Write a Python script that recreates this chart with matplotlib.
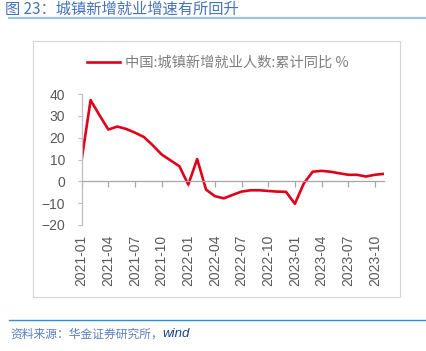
import matplotlib
matplotlib.use("Agg")
import matplotlib.pyplot as plt
from matplotlib.patches import Rectangle
from matplotlib.lines import Line2D

plt.rcParams['font.family'] = ['Liberation Sans', 'Noto Sans CJK SC', 'DejaVu Sans']

# 城镇新增就业人数:累计同比 (%), 2021-01 .. 2023-11
months = [f"{y}-{m:02d}" for y in (2021, 2022, 2023) for m in range(1, 13)][:35]
yoy = [10.0, 37.2, 30.3, 23.7, 25.1, 24.0, 22.3, 20.3, 16.5, 12.3, 9.6, 6.9,
       -1.5, 10.2, -3.8, -6.8, -7.8, -6.2, -4.7, -4.1, -4.1, -4.4, -4.7, -4.8,
       -10.3, -1.0, 4.4, 4.8, 4.4, 3.7, 3.0, 3.0, 2.2, 3.0, 3.4]
tick_labels = months[::3]
yticks = [40, 30, 20, 10, 0, -10, -20]

title = "图 23：城镇新增就业增速有所回升"
legend_label = "中国:城镇新增就业人数:累计同比 %"
source = "资料来源：华金证券研究所，"

fig = plt.figure(figsize=(4.26, 3.51), dpi=100)
W, H = 426, 351

def fx(px):
    return px / W

def fy(py):
    return 1 - py / H

# outer chart frame
fig.patches.append(Rectangle((fx(33), fy(297)), fx(400) - fx(33), fy(41) - fy(297),
                             transform=fig.transFigure, fill=False,
                             edgecolor='#d4d4d4', linewidth=0.8))

ax = fig.add_axes([fx(81.7), fy(225), fx(383.7) - fx(81.7), fy(94) - fy(225)])
x = list(range(len(yoy)))
line, = ax.plot(x, yoy, color='#e0001b', linewidth=1.9, solid_joinstyle='round')

ax.set_xlim(0, len(yoy) - 1)
ax.set_ylim(-20, 40)
ax.set_yticks(yticks)
ax.tick_params(axis='y', direction='out', length=3, width=0.8, color='#bfbfbf',
               pad=9, labelsize=10, labelcolor='#595959')

for s in ('top', 'right'):
    ax.spines[s].set_visible(False)
ax.spines['left'].set_color('#bfbfbf')
ax.spines['left'].set_linewidth(0.9)
ax.spines['bottom'].set_position(('data', 0))
ax.spines['bottom'].set_color('#a6a6a6')
ax.spines['bottom'].set_linewidth(0.9)

tick_pos = x[::3]
ax.set_xticks(tick_pos)
ax.set_xticklabels([])
ax.tick_params(axis='x', direction='out', length=4, width=0.9, color='#a6a6a6')

sec = ax.secondary_xaxis(0.0)
sec.set_xticks(tick_pos)
sec.set_xticklabels(tick_labels, rotation=90)
sec.tick_params(axis='x', length=0, pad=7, labelsize=10, labelcolor='#595959')
sec.spines['bottom'].set_visible(False)

# legend
fig.legend(handles=[Line2D([], [], color='#e0001b', linewidth=1.9)],
           labels=[legend_label], loc='center left',
           bbox_to_anchor=(fx(87), fy(63)), frameon=False,
           borderpad=0, borderaxespad=0,
           handlelength=2.3, handletextpad=0.35,
           prop={'family': ['Noto Sans CJK SC', 'DejaVu Sans'], 'size': 10.3},
           labelcolor='#7f7f7f')

# title and rules
fig.text(fx(5), fy(9), title, ha='left', va='center', color='#4473b8',
         fontsize=11, family=['Noto Sans CJK SC', 'DejaVu Sans'])
fig.add_artist(Line2D([fx(9), 1], [fy(17.7), fy(17.7)], transform=fig.transFigure,
                      color='#9cc3e8', linewidth=1.6))
fig.add_artist(Line2D([fx(9), 1], [fy(320), fy(320)], transform=fig.transFigure,
                      color='#2a8fdc', linewidth=1.0))
t = fig.text(fx(10), fy(334), source, ha='left', va='center', color='#5a7fbf',
             fontsize=8.5, style='italic', family=['Noto Sans CJK SC', 'DejaVu Sans'])
fig.canvas.draw()
bb = t.get_window_extent()
fig.text(bb.x1 / W, fy(334), "wind", ha='left', va='center', color='#1f3f8f',
         fontsize=9.5, style='italic', family='Liberation Sans')

fig.savefig("out.png", dpi=100)
